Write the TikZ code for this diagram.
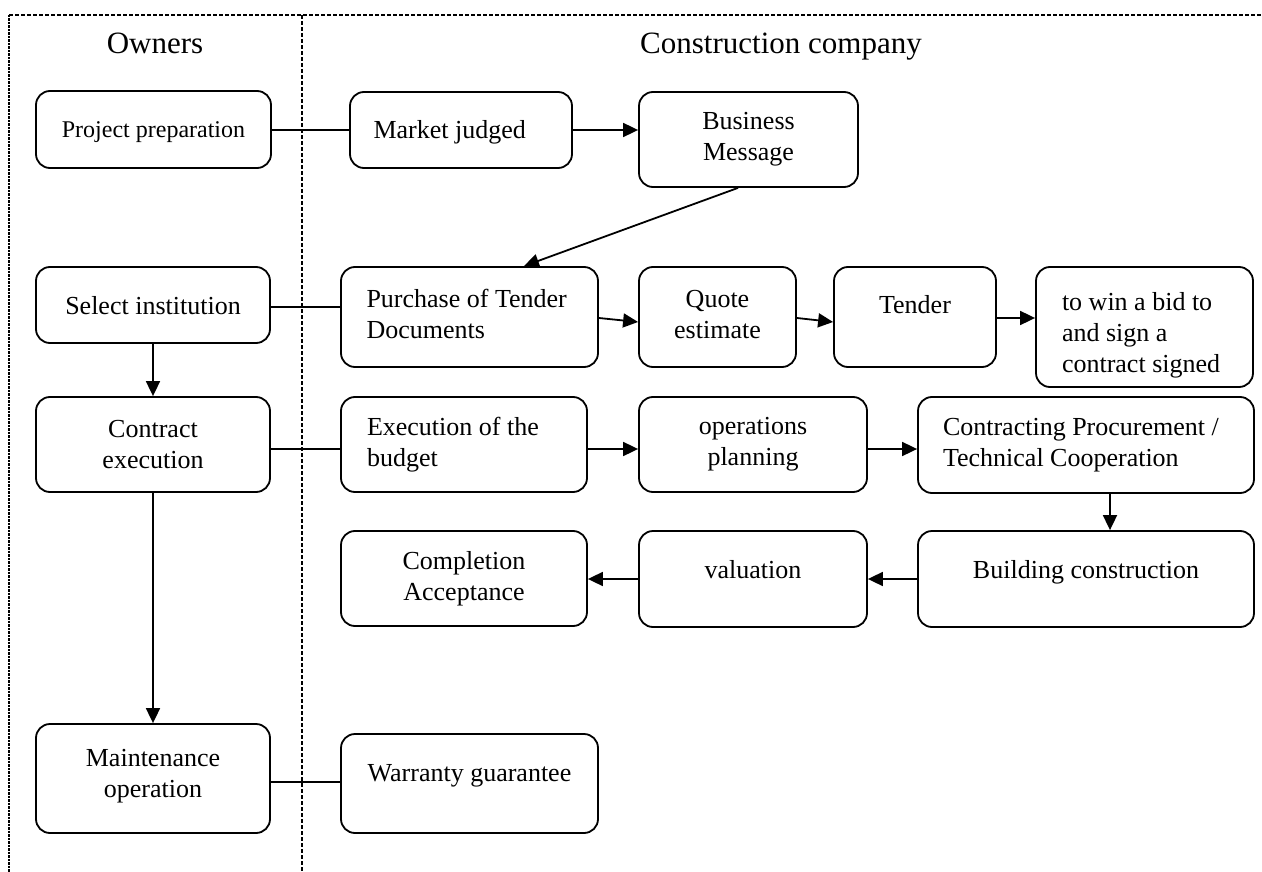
\documentclass[tikz,border=0pt]{standalone}
\usepackage{fontspec}
\setmainfont{Liberation Serif}
\usetikzlibrary{arrows.meta,calc}
\begin{document}
\begin{tikzpicture}[x=1pt,y=-1pt,
  box/.style={draw,line width=1.8pt,rounded corners=14pt,align=center,inner sep=0pt,
    font=\fontsize{26pt}{31pt}\selectfont},
  lbox/.style={box,align=flush left,text width=#1},
  head/.style={font=\fontsize{31pt}{36pt}\selectfont,anchor=base,inner sep=0pt},
  arr/.style={line width=1.8pt,-{Triangle[length=15pt,width=14pt]}},
  link/.style={line width=1.8pt},
  lane/.style={line width=1.6pt,dash pattern=on 4pt off 2pt},
  wlane/.style={line width=2.2pt,dash pattern=on 2.5pt off 1pt}]
\useasboundingbox (0,0) rectangle (1262,872);
% lanes
\draw[lane] (9,15) -- (1262,15);
\draw[wlane] (9,15) -- (9,872);
\draw[lane] (302,15) -- (302,872);
% headers
\node[head] (hown) at (155,54) {Owners};
\node[head] (hcon) at (781,54) {Construction company};
% owners column
\node[box,minimum width=235pt,minimum height=77pt,font=\fontsize{24pt}{29pt}\selectfont,text height=22pt,text depth=5pt] (pp) at (153.5,129.5) {Project preparation};
\node[box,minimum width=234pt,minimum height=76pt,text height=18pt,text depth=0pt] (si) at (153,305) {Select institution};
\node[box,minimum width=234pt,minimum height=95pt] (ce) at (153,444.5) {Contract\\execution};
\node[box,minimum width=234pt,minimum height=109pt,text depth=10pt] (mo) at (153,778.5) {Maintenance\\operation};
% company
\node[lbox=175pt,minimum width=222pt,minimum height=76pt,text height=24pt,text depth=6pt] (mj) at (461,130) {Market judged};
\node[box,minimum width=219pt,minimum height=95pt] (bm) at (748.5,139.5) {Business\\Message};
\node[lbox=206pt,minimum width=257pt,minimum height=100pt,text depth=38pt] (pur) at (469.5,317) {Purchase of Tender\\Documents};
\node[box,minimum width=157pt,minimum height=100pt,text depth=6pt] (qe) at (717.5,317) {Quote\\estimate};
\node[box,minimum width=162pt,minimum height=100pt,text height=18pt,text depth=26pt] (td) at (915,317) {Tender};
\node[lbox=165pt,minimum width=217pt,minimum height=120pt,text depth=52pt] (win) at (1144.5,327) {to win a bid to\\and sign a\\contract signed};
\node[lbox=194pt,minimum width=246pt,minimum height=95pt] (eb) at (464,444.5) {Execution of the\\budget};
\node[box,minimum width=228pt,minimum height=95pt] (op) at (753,444.5) {operations\\planning};
\node[lbox=286pt,minimum width=336pt,minimum height=96pt] (cp) at (1086,445) {Contracting Procurement /\\Technical Cooperation};
\node[box,minimum width=336pt,minimum height=96pt,text height=18pt,text depth=20pt] (bc) at (1086,579) {Building construction};
\node[box,minimum width=228pt,minimum height=96pt,text height=18pt,text depth=20pt] (va) at (753,579) {valuation};
\node[box,minimum width=246pt,minimum height=95pt] (ca) at (464,578.5) {Completion\\Acceptance};
\node[box,minimum width=257pt,minimum height=99pt,text height=18pt,text depth=23pt] (wg) at (469.5,783.5) {Warranty guarantee};
% connectors
\draw[link] (pp.east |- mj.west) -- (mj.west);
\draw[arr] (mj.east) -- (mj.east -| bm.west);
\draw[arr] ([xshift=-10.5pt]bm.south) -- ([xshift=54.5pt]pur.north);
\draw[link] ([yshift=-2pt]si.east) -- ([yshift=-2pt]si.east -| pur.west);
\draw[arr] ([yshift=-1pt]pur.east) -- ([yshift=-5pt]qe.west);
\draw[arr] ([yshift=-1pt]qe.east) -- ([yshift=-5pt]td.west);
\draw[arr] ([yshift=-1pt]td.east) -- ([yshift=-1pt]td.east -| win.west);
\draw[arr] (si.south) -- (ce.north);
\draw[arr] (ce.south) -- (mo.north);
\draw[link] ([yshift=-4.5pt]ce.east) -- ([yshift=-4.5pt]eb.west);
\draw[arr] ([yshift=-4.5pt]eb.east) -- ([yshift=-4.5pt]op.west);
\draw[arr] ([yshift=-4.5pt]op.east) -- ([yshift=-4.5pt]op.east -| cp.west);
\draw[arr] ([xshift=24pt]cp.south) -- ([xshift=24pt]cp.south |- bc.north);
\draw[arr] (bc.west) -- (bc.west -| va.east);
\draw[arr] (va.west) -- (va.west -| ca.east);
\draw[link] ([yshift=-3.5pt]mo.east) -- ([yshift=-3.5pt]mo.east -| wg.west);
\end{tikzpicture}
\end{document}
